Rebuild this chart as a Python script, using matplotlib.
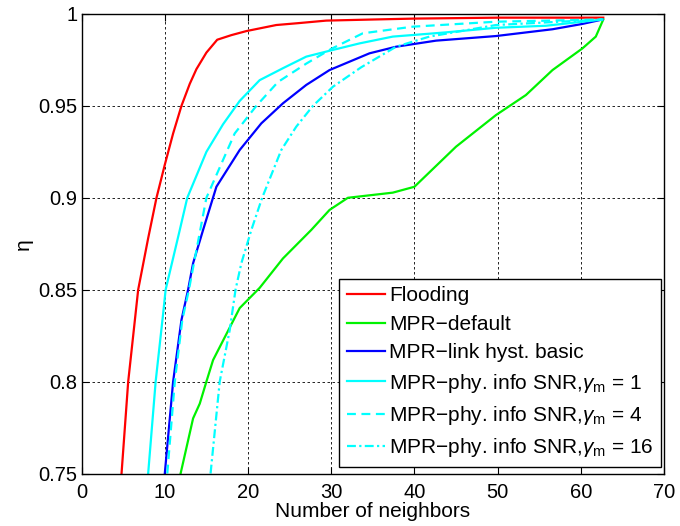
import matplotlib
matplotlib.use("Agg")
import matplotlib.pyplot as plt

plt.rcParams['font.family'] = ['Liberation Sans', 'DejaVu Sans']
plt.rcParams['mathtext.fontset'] = 'custom'
plt.rcParams['mathtext.rm'] = 'Liberation Sans'
plt.rcParams['mathtext.it'] = 'Liberation Sans:italic'

# Flooding
flood_x = [4.8, 5.6, 6.8, 8.0, 9.0, 10.0, 11.0, 12.0, 13.0, 13.8, 15.0, 16.3, 18.0, 19.8, 23.4, 26.0, 29.4, 35.0, 40.0, 50.0, 62.7]
flood_y = [0.75, 0.80, 0.85, 0.878, 0.90, 0.918, 0.935, 0.95, 0.962, 0.970, 0.979, 0.986, 0.9885, 0.9907, 0.994, 0.995, 0.9964, 0.997, 0.9975, 0.998, 0.998]

# MPR-default
def_x = [11.9, 13.4, 14.2, 15.0, 15.8, 19.0, 21.4, 24.2, 27.6, 29.8, 32.0, 37.4, 40.0, 45.0, 49.8, 53.4, 56.6, 60.2, 61.8, 62.7]
def_y = [0.75, 0.78, 0.788, 0.80, 0.8117, 0.840, 0.851, 0.867, 0.8825, 0.8934, 0.900, 0.9028, 0.906, 0.9278, 0.945, 0.9559, 0.9695, 0.9813, 0.9877, 0.997]

# MPR-link hyst. basic
hyst_x = [10.0, 11.0, 12.0, 12.8, 13.4, 14.6, 16.2, 19.0, 21.6, 24.2, 27.0, 29.8, 34.6, 37.8, 42.6, 49.8, 56.6, 60.2, 62.6]
hyst_y = [0.75, 0.80, 0.8335, 0.85, 0.8644, 0.8825, 0.906, 0.926, 0.9405, 0.9514, 0.9614, 0.9695, 0.9786, 0.9822, 0.9855, 0.988, 0.9917, 0.9946, 0.997]

# MPR-phy info SNR, gamma_m = 1
g1_x = [8.0, 8.9, 9.8, 10.1, 11.8, 12.7, 15.0, 17.0, 19.0, 21.4, 24.2, 27.0, 29.8, 33.4, 37.4, 43.8, 49.8, 55.8, 62.6]
g1_y = [0.75, 0.80, 0.837, 0.85, 0.8825, 0.90, 0.925, 0.940, 0.9527, 0.964, 0.9705, 0.9768, 0.980, 0.984, 0.9877, 0.990, 0.9925, 0.9936, 0.997]

# gamma_m = 4
g4_x = [10.3, 11.2, 12.1, 12.9, 13.5, 15.0, 18.4, 21.0, 23.6, 27.0, 30.0, 33.8, 39.8, 49.8, 62.6]
g4_y = [0.75, 0.80, 0.8335, 0.85, 0.8644, 0.90, 0.935, 0.950, 0.963, 0.973, 0.981, 0.9895, 0.9931, 0.9958, 0.997]

# gamma_m = 16
g16_x = [15.5, 16.6, 17.8, 18.5, 19.2, 20.4, 21.7, 24.0, 25.8, 27.8, 30.2, 33.6, 37.8, 41.8, 49.8, 62.6]
g16_y = [0.75, 0.80, 0.828, 0.85, 0.8644, 0.8825, 0.90, 0.926, 0.9387, 0.95, 0.9604, 0.9710, 0.9822, 0.9877, 0.994, 0.997]

labels = ['Flooding',
          'MPR\u2212default',
          'MPR\u2212link hyst. basic',
          'MPR\u2212phy. info SNR,$\\gamma_{\\mathrm{m}}$ = 1',
          'MPR\u2212phy. info SNR,$\\gamma_{\\mathrm{m}}$ = 4',
          'MPR\u2212phy. info SNR,$\\gamma_{\\mathrm{m}}$ = 16']

xticks = [0, 10, 20, 30, 40, 50, 60, 70]
yticks = [0.75, 0.8, 0.85, 0.9, 0.95, 1.0]
yticklabels = ['0.75', '0.8', '0.85', '0.9', '0.95', '1']

fig = plt.figure(figsize=(6.8, 5.26), dpi=100)
ax = fig.add_axes([0.120, 0.0998, 0.8565, 0.8736])

lw = 1.6
ax.plot(flood_x, flood_y, color=(1, 0, 0), lw=lw, label=labels[0])
ax.plot(def_x, def_y, color=(0, 0.95, 0), lw=lw, label=labels[1])
ax.plot(hyst_x, hyst_y, color=(0, 0, 1), lw=lw, label=labels[2])
ax.plot(g1_x, g1_y, color=(0, 1, 1), lw=lw, label=labels[3])
ax.plot(g4_x, g4_y, color=(0, 1, 1), lw=lw, ls=(0, (4, 2.5)), label=labels[4])
ax.plot(g16_x, g16_y, color=(0, 1, 1), lw=lw, ls=(0, (4, 1.5, 1, 1.5)), label=labels[5])

ax.set_xlim(0, 70)
ax.set_ylim(0.75, 1.0)
ax.set_xticks(xticks)
ax.set_yticks(yticks)
ax.set_yticklabels(yticklabels)
ax.tick_params(direction='in', labelsize=14.5, length=5, top=True, right=True, width=0.8)
ax.tick_params(axis='x', pad=7)
ax.tick_params(axis='y', pad=3)
ax.grid(True, color='black', ls=(0, (3, 3)), lw=0.6)
for s in ax.spines.values():
    s.set_linewidth(1.0)

ax.set_xlabel('Number of neighbors', fontsize=15, labelpad=0)
ax.set_ylabel('\u03b7', fontsize=15, labelpad=4)

leg = ax.legend(loc='lower right', bbox_to_anchor=(0.995, 0.015), fontsize=15,
                frameon=True, fancybox=False, borderaxespad=0.0,
                edgecolor='black', framealpha=1,
                handlelength=1.85, handletextpad=0.2, labelspacing=0.45, borderpad=0.35)
leg.get_frame().set_linewidth(1.0)

fig.savefig('out.png', dpi=100)
